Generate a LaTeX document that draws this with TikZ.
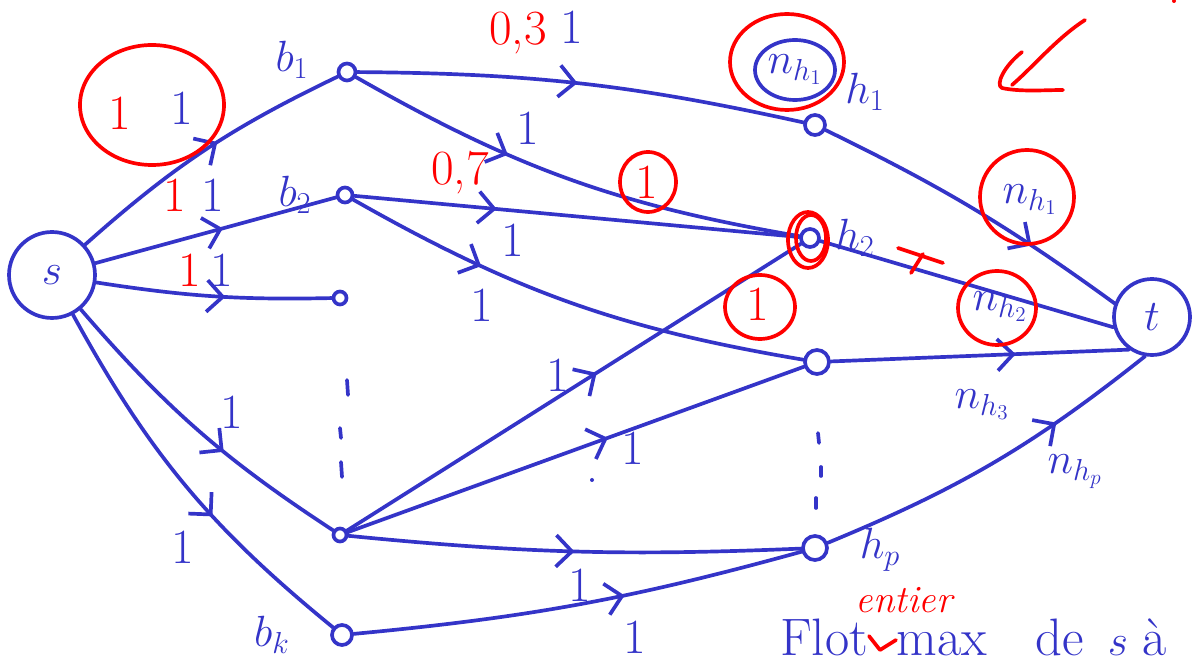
\documentclass[tikz,border=0pt]{standalone}
\usetikzlibrary{arrows.meta,decorations.markings}
\definecolor{pen}{RGB}{52,52,200}
\definecolor{redpen}{RGB}{255,0,0}
\begin{document}
\begin{tikzpicture}[x=0.02cm,y=-0.02cm,line width=2.1pt,line cap=round,line join=round,
  vert/.style={circle,draw=pen,text=pen,inner sep=0pt},
  flow/.style={color=pen,postaction={decorate},decoration={markings,
     mark=at position #1 with {\arrow{Straight Barb[length=9pt,width=18pt,line width=2.1pt]}}}},
  flow/.default=0.5,
  plain/.style={draw=pen},
  blbl/.style={text=pen,font=\fontsize{28}{30}\selectfont,inner sep=0pt},
  rlbl/.style={text=redpen,font=\fontsize{28}{30}\selectfont,inner sep=0pt},
  nlbl/.style={text=pen,font=\fontsize{24}{26}\selectfont,inner sep=0pt},
  bottomtext/.style={text=pen,font=\fontsize{30}{32}\selectfont,inner sep=0pt,anchor=base},
  redring/.style={draw=redpen},
  dashmark/.style={draw=pen}]
\useasboundingbox (0,0) rectangle (1194,668);

% vertices
\node[vert,minimum size=1.72cm,font=\fontsize{30}{32}\selectfont] (s) at (52,275) {$s$};
\node[vert,minimum size=1.52cm,font=\fontsize{30}{32}\selectfont] (t) at (1152,317) {$t$};
\node[vert,minimum size=0.34cm] (b1) at (347,72) {};
\node[vert,minimum size=0.30cm] (b2) at (345,195) {};
\node[vert,minimum size=0.26cm] (b3) at (340,298) {};
\node[vert,minimum size=0.26cm] (bm) at (340,535) {};
\node[vert,minimum size=0.40cm] (bk) at (342,635) {};
\node[vert,minimum size=0.40cm] (h1) at (815,125) {};
\node[vert,minimum size=0.36cm] (h2) at (810,238) {};
\node[vert,minimum size=0.48cm] (h3) at (817,362) {};
\node[vert,minimum size=0.48cm] (hp) at (815,548) {};

% vertex labels
\node[nlbl] (lb1) at (292,60) {$b_1$};
\node[nlbl] (lb2) at (295,195) {$b_2$};
\node[nlbl] (lbk) at (272,635) {$b_k$};
\node[nlbl] (lh1) at (865,92) {$h_1$};
\node[nlbl] (lh2) at (855,238) {$h_2$};
\node[nlbl] (lhp) at (880,550) {$h_p$};

% edges from s
\draw[flow=0.55] (s) to[bend left=8] (b1);
\draw[flow=0.53] (s) to (b2);
\draw[flow=0.55] (s) to[bend right=5] (b3);
\draw[flow=0.6] (s) to[bend right=8] (bm);
\draw[flow=0.6] (s) to[bend right=11] (bk);

% middle edges
\draw[flow=0.49] (b1) to[bend left=6] (h1);
\draw[flow=0.36] (b1) to[bend right=10] (h2);
\draw[flow=0.32] (b2) to (h2);
\draw[flow=0.3] (b2) to[bend right=10] (h3);
\draw[flow=0.55] (bm) to (h2);
\draw[flow=0.57] (bm) to (h3);
\draw[flow=0.5] (bm) to[bend right=4] (hp);
\draw[flow=0.6] (bk) to[bend right=5] (hp);

% edges to t
\draw[flow=0.7] (h1) to[bend left=5] (t.160);
\draw[plain] (h2) to (t.195);
\draw[flow=0.62] (h3) to (t.235);
\draw[flow=0.7] (hp) to[bend right=8] (t.260);

% capacity labels
\node[rlbl] (r11) at (120,113) {1};
\node[blbl] (c11) at (182,108) {1};
\node[rlbl] (r12) at (175,195) {1};
\node[blbl] (c12) at (213,195) {1};
\node[rlbl] (r13) at (190,270) {1};
\node[blbl] (c13) at (222,270) {1};
\node[blbl] (c14) at (232,412) {1};
\node[blbl] (c15) at (183,547) {1};
\node[rlbl] (r21) at (518,33) {0,3};
\node[blbl] (c21) at (572,27) {1};
\node[blbl] (c22) at (528,128) {1};
\node[rlbl] (r22) at (460,173) {0,7};
\node[blbl] (c23) at (513,240) {1};
\node[blbl] (c24) at (482,305) {1};
\node[blbl] (c25) at (558,375) {1};
\node[blbl] (c26) at (633,448) {1};
\node[blbl] (c27) at (580,585) {1};
\node[blbl] (c28) at (635,637) {1};
\node[rlbl] (r23) at (647,182) {1};
\node[rlbl] (r24) at (758,304) {1};
\node[nlbl] (n1) at (1030,200) {$n_{h_1}$};
\node[nlbl] (n2) at (1000,307) {$n_{h_2}$};
\node[nlbl] (n3) at (982,405) {$n_{h_3}$};
\node[nlbl] (np) at (1075,472) {$n_{h_p}$};
\node[nlbl] (n0) at (795,70) {$n_{h_1}$};

% red rings
\draw[redring] (152,105) ellipse [x radius=72, y radius=60];
\draw[redring] (648,182) ellipse [x radius=28, y radius=30];
\draw[redring] (760,307) ellipse [x radius=35, y radius=32];
\draw[redring] (787,62) ellipse [x radius=57, y radius=48];
\draw[pen] (795,70) ellipse [x radius=40, y radius=30];
\draw[redring] (1027,197) ellipse [x radius=47, y radius=47];
\draw[redring] (997,308) ellipse [x radius=39, y radius=37];
\draw[redring] (808,240) ellipse [x radius=20, y radius=28];
\draw[redring] (811,238) ellipse [x radius=15, y radius=23];

% red mark on h2 -> t
\draw[redring] (898,248) -- (943,263);
\draw[redring] (923,254) -- (911,273);

% red arrow top right
\draw[redring] (1085,20) .. controls (1057,38) and (1033,67) .. (1012,85);
\draw[redring] (1022,52) .. controls (1004,66) and (995,85) .. (1002,88) .. controls (1020,92) and (1045,90) .. (1063,90);
\fill[redpen] (1174,1) circle [radius=2];

% dashes and dot
\draw[dashmark] (347,380) -- (348,395);
\draw[dashmark] (340,428) -- (341,438);
\draw[dashmark] (341,462) -- (342,477);
\draw[dashmark] (818,433) -- (819,443);
\draw[dashmark] (821,467) -- (821,476);
\draw[dashmark] (816,498) -- (816,508);
\fill[pen] (592,480) circle [radius=2];

% bottom text
\node[bottomtext] (flot) at (824,656) {Flot};
\node[bottomtext] (maxt) at (942,656) {max};
\node[bottomtext] (det) at (1060,656) {de};
\node[bottomtext] (st) at (1118,656) {$s$};
\node[bottomtext] (at) at (1155,656) {à};
\node[text=redpen,font=\fontsize{22}{24}\selectfont\itshape,inner sep=0pt] (ent) at (904,600) {entier};
\draw[redring] (869,636) -- (880,650) -- (896,640);
\end{tikzpicture}
\end{document}
